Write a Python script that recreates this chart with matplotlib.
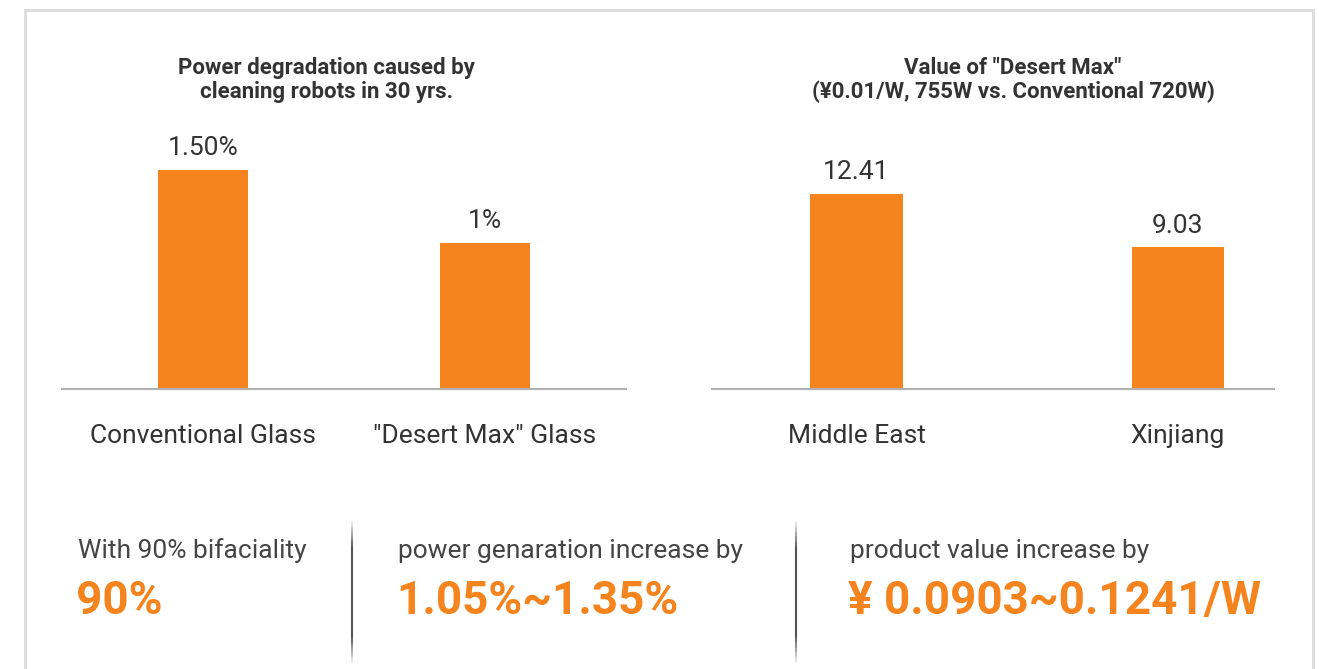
import numpy as np
import matplotlib.pyplot as plt
from matplotlib.collections import LineCollection
from matplotlib.lines import Line2D

plt.switch_backend('Agg')
plt.rcParams['font.family'] = ['Roboto', 'DejaVu Sans']

ORANGE = '#F5841F'
DARK = '#333333'

left_cats = ['Conventional Glass', '"Desert Max" Glass']
left_vals = [1.5, 1.0]
left_labels = ['1.50%', '1%']
left_title = 'Power degradation caused by\ncleaning robots in 30 yrs.'

right_cats = ['Middle East', 'Xinjiang']
right_vals = [12.41, 9.03]
right_labels = ['12.41', '9.03']
right_title = 'Value of "Desert Max"\n(\u00a50.01/W, 755W vs. Conventional 720W)'

stat_captions = ['With 90% bifaciality', 'power genaration increase by', 'product value increase by']
stat_values = ['90%', '1.05%~1.35%', '\u00a5 0.0903~0.1241/W']

W, H = 1319, 669
fig = plt.figure(figsize=(W / 100, H / 100), dpi=100)
fig.patch.set_facecolor('white')


def fx(px):
    return px / W


def fy(py):
    return 1 - py / H


# card outline
card = dict(color='#dcdcdc', lw=2, transform=fig.transFigure)
fig.add_artist(Line2D([fx(25), fx(1313)], [fy(10), fy(10)], **card))
fig.add_artist(Line2D([fx(25), fx(25)], [fy(10), 0], **card))
fig.add_artist(Line2D([fx(1313), fx(1313)], [fy(10), 0], **card))


def bar_panel(rect, cats, vals, labels, xlim, ylim, width):
    ax = fig.add_axes(rect)
    x = np.arange(len(cats))
    ax.bar(x, vals, width=width, color=ORANGE)
    for xi, v, lab in zip(x, vals, labels):
        ax.annotate(lab, (xi, v), xytext=(0, 7), textcoords='offset points',
                    ha='center', va='bottom', fontsize=19, color=DARK)
    ax.set_xlim(*xlim)
    ax.set_ylim(0, ylim)
    ax.set_xticks(x)
    ax.set_xticklabels(cats, fontsize=19, color=DARK)
    ax.tick_params(axis='x', length=0, pad=25)
    ax.set_yticks([])
    for s in ['top', 'right', 'left']:
        ax.spines[s].set_visible(False)
    ax.spines['bottom'].set_color('#b0b0b0')
    ax.spines['bottom'].set_linewidth(1.5)
    ax.set_facecolor('none')
    return ax


axes_bottom = fy(389)
axes_h = 259 / H
bar_panel([fx(62), axes_bottom, 564 / W, axes_h], left_cats, left_vals, left_labels,
          (-0.5, 1.5), 259 / 146, 0.32)
bar_panel([fx(712), axes_bottom, 562 / W, axes_h], right_cats, right_vals, right_labels,
          (-0.45, 1.30), 259 / 15.7, 0.287)

fig.text(fx(326), fy(80), left_title, ha='center', va='center', fontsize=16,
         fontweight='bold', color=DARK, linespacing=1.12)
fig.text(fx(1013), fy(80), right_title, ha='center', va='center', fontsize=16,
         fontweight='bold', color=DARK, linespacing=1.12)

# bottom statistics
for xs, cap, val in zip([78, 398, 850], stat_captions, stat_values):
    fig.text(fx(xs), fy(551), cap, ha='left', va='center', fontsize=19, color='#444444')
    fig.text(fx(xs - 2), fy(601), val, ha='left', va='center', fontsize=33,
             fontweight='bold', color=ORANGE)

# dividers with faded ends
for xd in [352, 796]:
    ys = np.linspace(518, 666, 60)
    segs = [[(fx(xd), fy(a)), (fx(xd), fy(b))] for a, b in zip(ys[:-1], ys[1:])]
    t = np.linspace(0, 1, len(segs))
    alpha = np.clip(np.minimum(t, 1 - t) * 5, 0, 1)
    cols = [(0.33, 0.33, 0.33, a) for a in alpha]
    fig.add_artist(LineCollection(segs, colors=cols, linewidths=1.5, transform=fig.transFigure))

plt.savefig('out.png', dpi=100, facecolor='white')
